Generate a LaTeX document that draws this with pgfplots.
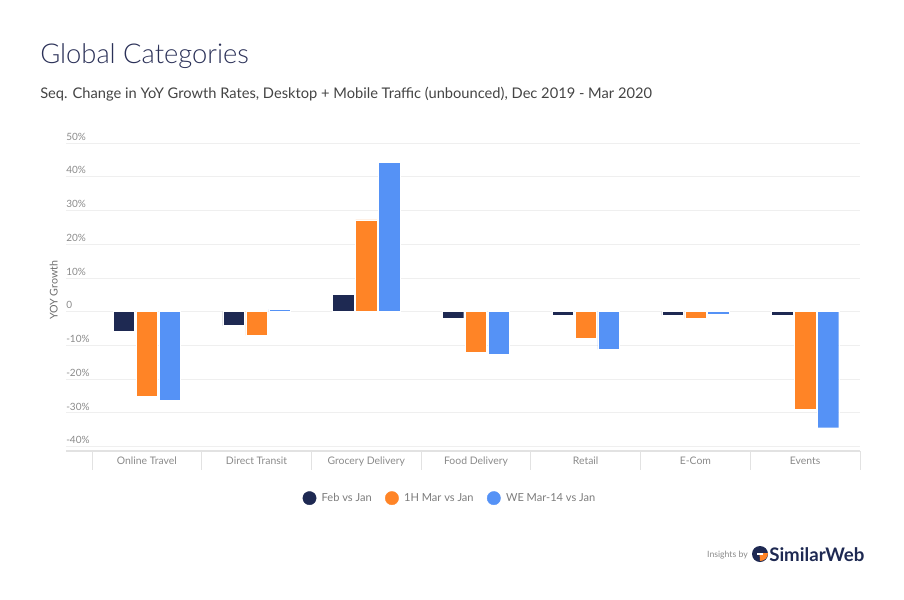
\documentclass[border=0pt]{standalone}
\usepackage{pgfplots}
\pgfplotsset{compat=1.18}
\usepackage{fontspec}
\setmainfont{Lato}
\newfontfamily\latolight{Lato Light}
\definecolor{cnavy}{HTML}{1E2952}
\definecolor{corange}{HTML}{FF8426}
\definecolor{cblue}{HTML}{5592F6}
\definecolor{ctitle}{HTML}{2B3158}
\definecolor{csub}{HTML}{444444}
\definecolor{ctick}{HTML}{8A8A8A}
\definecolor{cgrid}{HTML}{EFEFEF}
\definecolor{caxis}{HTML}{E2E2E2}
\begin{document}
\begin{tikzpicture}[x=0.75pt,y=-0.75pt]
\path[use as bounding box] (0,0) rectangle (904,600);
\node[anchor=base west, inner sep=0, text=ctitle, font=\latolight\fontsize{20.5}{24}\selectfont] at (40,63) {Global Categories};
\node[anchor=base west, inner sep=0, text=csub, font=\fontsize{11}{13}\selectfont] at (40,98) {Seq. Change in YoY Growth Rates, Desktop + Mobile Traffic (unbounced), Dec 2019 - Mar 2020};
\begin{axis}[
  at={(49.5pt,-338.25pt)}, anchor=south west,
  scale only axis, width=595.5pt, height=231pt,
  ybar=1.2pt, bar width=16pt,
  xmin=-0.7364, xmax=6.5,
  ymin=-41.3, ymax=50,
  axis x line*=bottom, axis y line*=left,
  x axis line style={draw=caxis, line width=1.5pt},
  y axis line style={draw=none},
  xtick={-0.5,0.5,...,6.5},
  xticklabels={},
  x tick style={draw=caxis, line width=0.6pt},
  xtick align=outside,
  x tick label style={text=ctick, font=\fontsize{7.8}{9}\selectfont},
  major tick length=14pt,
  extra x ticks={0,...,6},
  extra x tick labels={Online Travel, Direct Transit, Grocery Delivery, Food Delivery, Retail, E-Com, Events},
  extra x tick style={major tick length=0pt, tick style={draw=none}, xticklabel style={yshift=-1pt}},
  ytick={-40,-30,...,50},
  yticklabels={-40\%,-30\%,-20\%,-10\%,0,10\%,20\%,30\%,40\%,50\%},
  yticklabel style={anchor=south west, inner sep=0pt, xshift=0pt, yshift=1.8pt, text=ctick, font=\fontsize{7.5}{8}\selectfont},
  y tick style={draw=none},
  ymajorgrids, grid style={draw=cgrid, line width=0.6pt},
  ylabel={YOY Growth},
  every axis y label/.style={at={(rel axis cs:0,0.5)}, xshift=-6pt, yshift=5pt, rotate=90, anchor=south, inner sep=0pt, text=ctick!80!black, font=\fontsize{8}{9}\selectfont},
  legend style={at={(rel axis cs:0.484,-0.153)}, anchor=center, draw=none, fill=none, legend columns=3,
    font=\fontsize{8.3}{9}\selectfont, text=ctick!90!black,
    /tikz/every odd column/.append style={column sep=2pt},
    /tikz/every even column/.append style={column sep=8pt}},
  legend cell align=left,
]
\addplot[fill=cnavy, draw=white, line width=0.3pt,
  legend image code/.code={\fill[cnavy] (0pt,0pt) circle (5pt);}]
  coordinates {(0,-5.9) (1,-4.1) (2,5.2) (3,-2.0) (4,-1.1) (5,-1.1) (6,-1.1)};
\addplot[fill=corange, draw=white, line width=0.3pt,
  legend image code/.code={\fill[corange] (0pt,0pt) circle (5pt);}]
  coordinates {(0,-25.0) (1,-7.0) (2,27.2) (3,-11.9) (4,-8.0) (5,-2.0) (6,-28.9)};
\addplot[fill=cblue, draw=white, line width=0.3pt,
  legend image code/.code={\fill[cblue] (0pt,0pt) circle (5pt);}]
  coordinates {(0,-26.2) (1,0.7) (2,44.3) (3,-12.5) (4,-11.2) (5,-0.8) (6,-34.4)};
\legend{Feb vs Jan, 1H Mar vs Jan, WE Mar-14 vs Jan}
\end{axis}
% logo
\node[anchor=base east, inner sep=0, text=ctick, font=\fontsize{6.5}{8}\selectfont] at (748,557) {Insights by};
\begin{scope}[shift={(760,554)}]
  \fill[cnavy] (0,0) circle (8);
  \fill[corange] (-0.5,-1) -- (8,-1) arc (0:90:8) -- cycle;
  \fill[white] (-3,-1) rectangle (3,1);
\end{scope}
\node[anchor=base west, inner sep=0, text=cnavy, font=\bfseries\fontsize{14}{16}\selectfont] at (769,561) {SimilarWeb};
\end{tikzpicture}
\end{document}
